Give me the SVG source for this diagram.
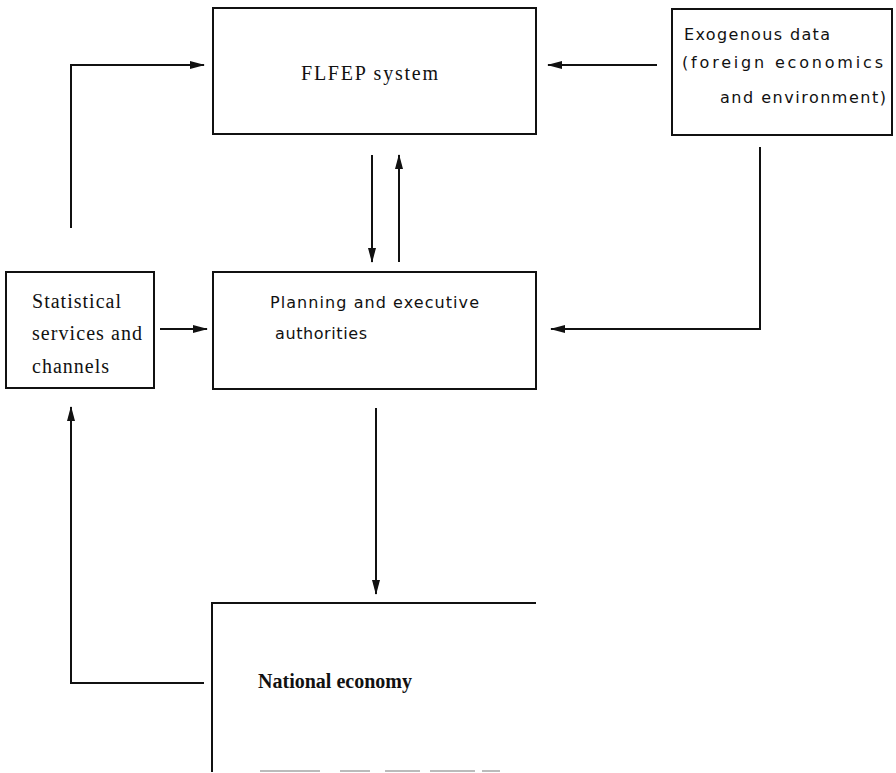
<svg xmlns="http://www.w3.org/2000/svg" width="896" height="773" viewBox="0 0 896 773">
<style>
.box{fill:none;stroke:#111;stroke-width:2}
.ln{fill:none;stroke:#111;stroke-width:2}
.serif{font-family:"Liberation Serif","DejaVu Serif",serif;font-size:20px;fill:#111}
.sans{font-family:"DejaVu Sans","Liberation Sans",sans-serif;font-size:16px;fill:#111}
</style>
<defs>
<marker id="ah" markerWidth="15" markerHeight="8" refX="14" refY="4" orient="auto" markerUnits="userSpaceOnUse">
<path d="M0,0 L15,4 L0,8 Z" fill="#111"/>
</marker>
</defs>
<rect width="896" height="773" fill="#fff"/>
<g id="flfep">
<rect class="box" x="213" y="8" width="323" height="126"/>
<text class="serif" x="301" y="80" textLength="137" lengthAdjust="spacing">FLFEP system</text>
</g>
<g id="exogenous">
<rect class="box" x="672" y="9" width="220" height="126"/>
<text class="sans" x="684" y="40" textLength="146" lengthAdjust="spacing">Exogenous data</text>
<text class="sans" x="682" y="68" textLength="201" lengthAdjust="spacing">(foreign economics</text>
<text class="sans" x="720" y="103" textLength="166" lengthAdjust="spacing">and environment)</text>
</g>
<g id="statistical">
<rect class="box" x="6" y="272" width="148" height="116"/>
<text class="serif" x="32" y="308" textLength="89" lengthAdjust="spacing">Statistical</text>
<text class="serif" x="32" y="340" textLength="110" lengthAdjust="spacing">services and</text>
<text class="serif" x="32" y="373" textLength="77" lengthAdjust="spacing">channels</text>
</g>
<g id="planning">
<rect class="box" x="213" y="272" width="323" height="117"/>
<text class="sans" x="270" y="308" textLength="209" lengthAdjust="spacing">Planning and executive</text>
<text class="sans" x="275" y="339" textLength="92" lengthAdjust="spacing">authorities</text>
</g>
<g id="national">
<path class="ln" d="M212,772 L212,603 L536,603"/>
<path d="M260,771 H320 M340,771 H370 M385,771 H420 M430,771 H475 M482,771 H500" stroke="#bbb" stroke-width="2" fill="none"/>
<text class="serif" x="258" y="688" font-weight="bold" textLength="154" lengthAdjust="spacing">National economy</text>
</g>
<g id="connectors">
<path class="ln" d="M657,65 L548,65" marker-end="url(#ah)"/>
<path class="ln" d="M71,228 L71,65 L204,65" marker-end="url(#ah)"/>
<path class="ln" d="M372,155 L372,262" marker-end="url(#ah)"/>
<path class="ln" d="M399,262 L399,155" marker-end="url(#ah)"/>
<path class="ln" d="M760,147 L760,329 L551,329" marker-end="url(#ah)"/>
<path class="ln" d="M160,329 L207,329" marker-end="url(#ah)"/>
<path class="ln" d="M376,408 L376,594" marker-end="url(#ah)"/>
<path class="ln" d="M204,683 L71,683 L71,407" marker-end="url(#ah)"/>
</g>
</svg>
